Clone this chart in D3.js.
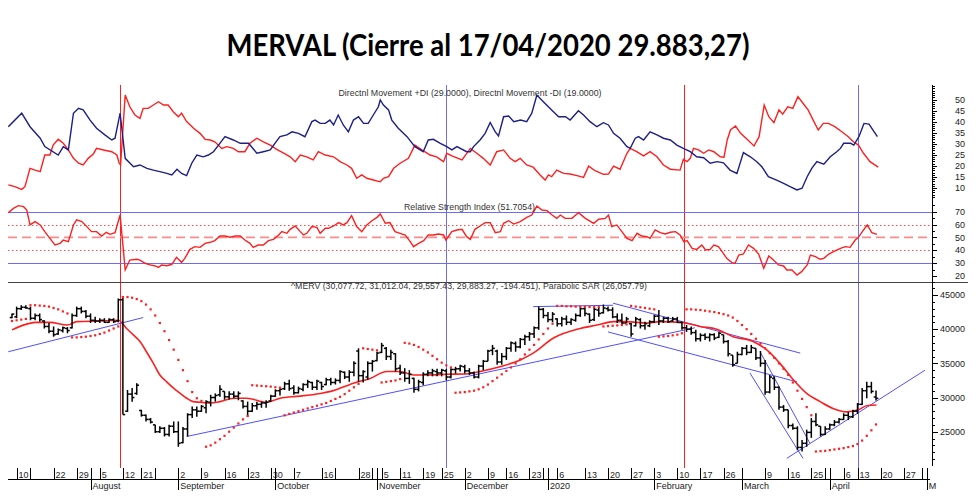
<!DOCTYPE html>
<html>
<head>
<meta charset="utf-8">
<script src="https://cdn.jsdelivr.net/npm/d3@7"></script>
<style>
  body { margin: 0; background: #fff; }
  svg { display: block; }
  text { font-family: "Liberation Sans", Arial, sans-serif; }
</style>
</head>
<body>
<script>
// ---- data ----
var title = "MERVAL (Cierre al 17/04/2020 29.883,27)";

// OHLC per trading day, index 0 = first bar (5 Jul 2019), 187 = 17 Apr 2020. Values in thousands of points.
var priceOpen = [41.7,41.8,43.0,43.2,43.0,41.6,42.0,41.2,40.4,39.7, 39.3,39.8,40.1,40.2,42.0,43.0,42.6,41.9,41.3,41.2,
  41.3,41.0,41.4,41.2,44.3,28.0,30.5,30.6,28.1,27.4, 26.8,26.0,25.0,25.5,24.6,25.8,25.0,23.4,25.4,27.5,
  28.2,28.0,28.5,29.3,30.0,30.4,30.9,30.1,30.5,30.2, 29.5,28.7,28.0,28.8,29.0,29.2,29.5,30.2,31.0,31.3,
  32.0,31.4,30.7,31.2,31.9,32.2,31.5,32.2,31.9,32.6, 32.2,32.5,33.7,33.0,33.7,36.8,33.2,33.0,35.0,35.4,
  36.6,37.2,36.0,36.4,34.3,33.6,32.8,32.8,31.2,32.2, 33.4,33.6,33.8,33.6,33.9,33.0,34.1,34.2,34.5,33.9,
  33.6,33.0,34.6,35.3,36.9,36.8,35.2,36.0,37.2,37.9, 37.4,38.5,38.9,39.3,40.2,42.9,42.0,41.4,41.5,40.8,
  41.5,41.0,41.3,42.0,43.0,42.2,41.4,42.8,42.4,43.0, 42.8,41.8,41.3,40.9,40.8,40.5,41.4,40.5,40.5,41.1,
  41.9,41.2,41.6,41.2,41.5,41.0,40.2,40.0,39.5,38.6, 39.1,38.8,39.2,38.8,39.2,38.2,36.2,35.0,36.3,37.2,
  36.6,37.2,35.8,35.0,30.8,32.8,31.5,28.6,28.2,25.9, 25.5,22.7,23.3,24.9,26.5,25.8,24.6,25.4,26.0,26.4,
  26.8,27.4,27.2,28.0,29.0,31.0,31.6,30.08];
var priceHigh = [42.3,43.3,43.5,43.5,43.3,42.3,42.3,41.3,40.9,40.4, 40.1,40.4,40.3,42.3,43.3,43.3,42.8,42.3,41.8,41.6,
  41.6,41.6,41.6,44.5,44.7,31.1,31.4,32.1,28.2,27.5, 27.0,26.0,25.8,25.7,26.0,26.5,26.5,25.7,27.7,28.7,
  28.7,28.9,29.6,30.4,30.6,31.8,30.9,30.9,30.9,30.9, 29.6,29.4,29.2,29.4,29.4,29.6,30.4,31.2,31.4,32.3,
  32.6,31.8,31.6,32.1,32.6,32.3,32.6,32.3,32.9,32.9, 32.8,34.0,33.8,34.0,35.3,37.2,34.0,35.3,35.5,36.7,
  38.0,37.4,37.0,36.5,34.8,34.3,34.0,32.9,32.6,33.7, 34.0,34.2,34.2,34.2,34.2,34.3,34.5,34.8,34.8,34.3,
  33.8,34.8,35.5,37.0,37.7,37.0,36.5,37.4,38.2,38.2, 38.7,39.2,39.6,40.4,43.3,43.1,42.5,42.5,41.6,41.8,
  42.0,41.6,42.3,43.2,43.2,42.3,43.1,43.2,43.6,43.3, 43.2,42.3,42.3,41.8,40.9,41.8,41.6,41.1,41.3,42.1,
  42.8,41.8,41.8,41.8,41.8,41.1,40.6,40.4,39.9,39.4, 39.4,39.4,39.4,39.6,39.2,38.4,36.2,36.7,37.4,37.7,
  37.7,37.2,36.8,35.5,33.3,33.1,31.6,28.9,28.2,26.2, 25.8,23.8,25.3,27.0,27.7,25.8,25.8,26.2,26.7,27.0,
  27.7,27.9,28.2,29.2,31.4,32.3,32.3,31.01];
var priceLow = [41.6,41.6,42.8,43.0,41.3,41.3,41.1,40.1,39.4,38.9, 39.2,39.5,39.4,40.1,41.8,42.3,41.6,40.9,40.9,40.9,
  40.9,40.9,40.9,41.0,27.5,27.9,29.4,30.4,27.2,26.5, 26.2,24.8,24.8,24.3,24.3,24.8,22.8,23.3,24.3,27.0,
  27.2,27.9,27.7,28.7,29.4,30.1,29.7,29.7,29.9,29.6, 28.4,27.2,27.9,28.2,28.5,28.5,29.4,30.1,30.3,31.1,
  31.0,30.4,30.6,30.9,31.4,31.1,31.1,31.1,31.8,31.8, 31.9,32.1,32.7,32.3,33.1,32.3,32.2,32.6,33.8,35.3,
  36.5,35.5,35.5,33.8,33.3,32.3,32.0,30.7,30.9,31.8, 33.1,33.1,33.1,33.1,32.5,32.8,33.5,33.8,33.5,33.3,
  32.8,32.8,34.0,35.3,36.2,34.8,34.8,35.5,36.7,36.7, 37.2,37.7,38.3,38.7,39.9,41.6,41.0,41.0,40.4,40.4,
  40.6,40.6,41.1,41.8,41.9,40.9,41.2,41.8,42.3,42.6, 41.6,40.9,40.8,40.9,38.9,40.4,40.1,39.9,40.3,40.9,
  40.6,40.9,40.9,41.1,40.9,39.9,39.6,39.2,38.2,38.2, 38.4,38.2,38.4,38.7,37.9,36.0,34.5,35.0,36.2,36.2,
  36.5,35.5,34.5,30.4,30.6,31.1,28.2,27.9,25.5,25.3, 22.3,22.1,22.8,24.1,25.8,24.3,24.5,25.3,25.8,26.2,
  26.7,26.7,27.0,27.6,28.9,29.9,30.6,29.56];
var priceClose = [42.2,43.0,43.2,43.1,41.6,42.0,41.4,40.4,39.7,39.2, 39.9,40.2,39.8,42.0,43.0,42.6,41.9,41.3,41.2,41.3,
  41.0,41.4,41.1,44.3,27.5,30.5,30.0,31.8,27.4,26.8, 26.4,25.0,25.5,24.6,25.8,25.0,23.3,25.4,27.5,28.2,
  28.0,28.7,29.4,30.0,30.3,31.2,30.1,30.5,30.2,30.6, 28.7,28.0,28.8,29.0,29.2,29.3,30.2,31.0,31.2,32.0,
  31.3,30.7,31.3,31.9,32.3,31.5,32.4,31.6,32.6,32.2, 32.5,33.8,33.0,33.7,35.0,33.2,33.8,35.0,35.3,36.5,
  37.6,36.0,36.6,34.2,33.6,32.8,33.4,31.2,32.3,33.4, 33.6,33.9,33.6,34.0,33.0,34.1,34.2,34.6,33.9,33.6,
  33.0,34.6,35.3,36.8,37.2,35.2,36.0,37.2,38.0,37.4, 38.5,38.9,39.3,40.2,42.9,42.0,41.4,42.2,40.8,41.5,
  41.0,41.4,42.0,43.0,42.3,41.3,42.9,42.3,43.1,42.8, 41.8,41.3,40.9,41.5,39.3,41.5,40.5,40.8,41.1,41.9,
  41.2,41.6,41.1,41.5,41.0,40.2,40.0,39.5,38.6,39.1, 38.8,39.2,38.7,39.4,38.2,36.4,34.8,36.3,37.2,36.6,
  37.3,35.8,35.0,30.8,33.0,31.5,28.6,28.2,25.9,25.5, 22.7,23.3,24.9,26.5,26.0,24.6,25.4,26.0,26.4,26.8,
  27.4,27.2,28.0,29.0,31.0,31.6,30.9,29.88];

// Parabolic SAR, one dot per bar (thousands)
var sarValues = [41.2,41.3,41.4,41.5,43.5,43.5,43.45,43.4,43.3,43.1, 42.9,42.6,42.3,38.8,38.8,38.85,38.9,39.0,39.1,39.3,
  39.5,39.8,40.1,40.4,44.7,44.7,44.6,44.4,44.1,43.6, 42.9,42.0,40.9,39.7,38.4,37.0,35.5,34.0,32.4,30.8,
  29.9,29.5,22.8,23.0,23.4,23.9,24.4,25.0,25.6,26.2, 26.8,27.3,31.8,31.75,31.7,31.65,31.6,31.5,31.45,27.4,
  27.6,27.8,28.0,28.2,28.4,28.6,28.8,29.0,29.2,29.5, 29.8,30.1,30.5,31.0,31.5,32.0,37.2,37.1,37.0,36.9,
  32.2,32.3,32.4,32.5,32.7,38.0,37.9,37.7,37.4,37.0, 36.6,36.1,35.6,35.1,34.7,34.4,30.7,30.75,30.8,30.9,
  31.0,31.2,31.5,31.9,32.4,32.9,33.4,33.9,34.4,35.0, 35.6,36.3,37.0,37.7,38.5,39.3,40.1,40.8,43.4,43.4,
  43.35,43.35,43.3,43.3,43.3,43.25,43.25,43.25,40.4,40.45, 40.5,40.55,40.6,40.7,43.4,43.3,43.2,43.1,43.0,42.9,
  38.9,38.95,39.0,39.1,39.2,39.4,42.9,42.9,42.85,42.8, 42.7,42.6,42.5,42.35,42.2,42.0,41.7,41.2,40.6,40.0,
  39.3,38.6,37.9,37.2,36.5,35.8,35.0,34.2,33.3,32.2, 31.0,29.8,28.6,27.4,22.1,22.15,22.2,22.3,22.4,22.5,
  22.6,22.75,22.9,23.2,23.7,24.4,25.2,26.06];

// moving average traced as [bar index, value in thousands]
var movingAvg = [[0,39.9],[3,40.7],[5,41.0],[8.2,41.0],[12,40.6],[14,41.1],[19,41.2],[23,41.3],[24.8,40.1],[26.2,39.2],
  [27.7,38.2],[29.1,36.7],[30.6,35.0],[32,33.3],[33.5,32.3],[34.9,31.4],[36.4,30.6],[37.8,29.9],[39.2,29.4],[40.7,29.3],
  [42.9,29.2],[45,29.4],[48,29.9],[50.8,29.9],[55.1,29.3],[58,29.9],[62.3,30.2],[66.7,30.6],[69,30.9],[73.9,32.1],
  [77.5,32.8],[81.1,33.8],[84,33.8],[86.9,33.3],[89.8,33.3],[94.1,33.4],[98.4,33.45],[101.3,33.8],[105.6,34.5],[110,35.5],
  [112.8,36.5],[117.2,38.7],[123,40.1],[126.6,40.6],[130.2,41.1],[133,41.1],[137.4,40.9],[140.2,41.1],[145.3,40.95],[148.9,40.4],
  [152.5,40.0],[156.1,38.9],[160.4,38.2],[163.3,37.0],[166.2,35.0],[169.1,32.6],[172,30.6],[174.9,29.4],[177.7,28.4],[180.6,27.9],
  [183.2,28.2],[185,28.8],[187.1,28.9]];

// trend lines drawn on the price panel: [[index, value], [index, value]]
var trendLines = [
  [[-0.8,36.7],[28.4,41.7]],
  [[37.8,24.3],[147.8,40.2]],
  [[112.8,43.3],[130.1,43.5]],
  [[130.1,43.8],[170.6,36.5]],
  [[129,39.6],[169.9,32.3]],
  [[159.7,33.6],[171.2,21.1]],
  [[161.9,36.7],[172.7,23.3]],
  [[167.7,21.1],[197.6,34.0]]
];

// Directional movement, traced as [bar index, value]
var plusDI = [[-0.8,37.7],[2.1,43.8],[3.9,37.7],[6.1,32.5],[7.1,28.7],[10,24.9],[11.1,28.7],[12.2,27.2],[13.3,43.8],[14.4,46.0],
  [15.4,45.3],[16.9,40.7],[18.3,37.0],[20.1,34.0],[21.6,31.7],[22.3,32.5],[23.4,43.8],[24.5,23.4],[26.3,19.6],[27.7,20.4],
  [29.2,18.9],[30.6,18.1],[32,17.4],[33.5,16.6],[34.6,15.9],[35.7,18.5],[36.7,16.6],[37.8,15.6],[38.9,21.2],[40,24.9],
  [41.4,24.1],[42.5,24.9],[43.6,26.4],[44.7,29.4],[46.1,33.2],[47.9,31.7],[49.4,30.2],[51.2,30.2],[53,25.7],[54.4,26.4],
  [55.9,27.2],[56.9,30.2],[58,33.2],[59.5,34.0],[60.6,35.4],[62,34.7],[63.4,33.2],[64.9,40.0],[65.6,40.7],[66.7,39.2],
  [67.8,39.2],[68.8,40.7],[69.6,38.5],[70.6,43.0],[71.7,38.5],[72.8,35.4],[73.9,40.7],[75,42.2],[76.1,39.2],[77.1,39.2],
  [78.2,43.0],[79.3,46.7],[79.7,49.8],[80.4,47.5],[81.5,45.3],[82.2,40.7],[83.6,37.0],[85.5,33.2],[87.2,28.7],[89,26.4],
  [90.1,31.7],[91.2,32.0],[92.7,30.2],[94.1,28.7],[95.2,27.2],[96.3,28.7],[98.4,26.4],[99.2,26.4],[99.9,28.7],[101.3,31.7],
  [102.4,34.7],[103.5,39.6],[104.6,35.4],[105.3,33.5],[106.4,42.2],[107.5,42.5],[108.6,40.0],[110.1,40.7],[111.4,40.0],[112.5,43.8],
  [113.6,52.0],[115,49.0],[116.8,45.3],[118.3,42.2],[119.8,42.2],[120.8,40.7],[122.6,44.9],[123.7,43.0],[125.1,40.0],[126.6,37.7],
  [128,39.5],[129.1,38.5],[130.2,34.7],[131.6,32.5],[133.1,28.7],[133.8,27.9],[134.9,32.5],[135.6,33.2],[136.7,31.7],[138.1,35.4],
  [139.6,34.0],[141,32.5],[142.5,31.7],[143.9,29.4],[145.3,27.9],[146.8,26.4],[148.2,24.1],[149.7,23.7],[151.1,21.2],[152.6,21.9],
  [154,21.4],[155.4,18.1],[156.9,16.6],[158.3,26.0],[159.8,24.1],[161.2,21.9],[162.3,19.6],[163.7,15.1],[165.5,13.6],[167,12.1],
  [168.4,10.6],[169.9,9.1],[171,9.9],[172.1,15.1],[173.1,18.9],[174.2,21.9],[175.7,20.8],[177.1,24.1],[178.5,26.4],[179.3,27.9],
  [180,30.2],[181.5,30.2],[182.2,29.4],[183.3,33.2],[184.4,39.2],[185.5,38.9],[186.6,35.4],[187.3,33.2]];
var minusDI = [[-0.8,11.4],[0.6,10.6],[2.1,9.4],[2.8,10.6],[3.9,18.9],[5,18.1],[6.1,17.4],[7.1,24.9],[8.2,24.9],[8.9,29.4],
  [10,32.0],[11.1,30.2],[12.2,27.2],[13.3,23.4],[14.4,21.2],[15.4,20.4],[16.5,23.4],[17.6,25.4],[18.3,27.9],[19.8,27.2],
  [21.6,26.4],[22.7,24.9],[23.2,21.2],[23.5,20.4],[24.5,52.0],[25.5,46.7],[26.6,43.0],[27.7,41.5],[28.4,46.0],[29.5,46.0],
  [30.6,47.5],[31.7,49.0],[32.8,47.5],[33.8,47.5],[34.9,44.5],[36,42.2],[36.7,43.8],[37.8,40.0],[39.3,37.0],[40.7,34.7],
  [41.8,32.0],[42.9,31.7],[43.9,30.9],[45.4,27.9],[46.5,28.7],[47.9,27.9],[49,26.4],[50.4,26.4],[51.5,30.2],[53,32.5],
  [54.4,30.9],[55.9,29.4],[57.3,27.5],[59.1,25.4],[60.2,24.1],[61.3,21.9],[62.4,24.9],[63.8,24.1],[65.2,22.7],[66.3,26.4],
  [67.8,24.9],[69.6,24.1],[71,21.9],[72.5,20.4],[73.5,18.9],[74.6,14.4],[75.7,15.9],[76.8,14.4],[78.2,13.6],[79.7,12.8],
  [80.4,14.4],[81.5,15.1],[82.6,18.9],[84,21.2],[85.8,23.4],[87.2,29.4],[88.7,27.2],[90.5,24.9],[91.9,24.1],[93.4,21.9],
  [94.1,25.7],[95.2,24.5],[97.4,22.7],[99.2,27.9],[100.6,25.7],[102,23.4],[103.5,20.4],[104.9,26.4],[106.4,27.2],[107.8,23.4],
  [108.9,21.9],[110,23.4],[111.4,20.4],[112.8,19.4],[114.3,15.9],[115.4,13.6],[116.1,15.9],[116.8,15.1],[117.9,18.1],[119.4,16.6],
  [120.8,16.3],[122.3,15.6],[123.7,14.8],[124.8,19.9],[126.2,17.8],[128,16.2],[129.1,16.3],[130.2,19.9],[131.6,18.5],[133.1,25.7],
  [133.8,27.9],[135.2,26.4],[136.7,24.5],[138.1,26.4],[139.6,24.1],[141,20.4],[142.5,18.5],[144.6,18.1],[145.3,23.0],[146.1,21.9],
  [146.8,23.4],[147.5,27.9],[148.6,27.2],[149.7,25.7],[150.8,27.2],[151.9,26.4],[153.3,24.1],[154.1,23.9],[154.8,31.7],[155.5,36.2],
  [156.6,38.0],[157.7,34.7],[159.1,32.0],[160.6,29.0],[161.7,33.2],[162.8,47.5],[163.8,42.2],[164.9,39.5],[166,45.3],[166.8,43.4],
  [167.9,46.7],[169,46.0],[170.1,51.3],[171.2,48.3],[172.3,45.3],[173.4,40.7],[174.5,36.2],[175.6,39.2],[176.7,39.2],[178.1,37.7],
  [179.6,35.4],[181,33.2],[182.1,30.9],[183.2,29.4],[184.3,25.7],[185.7,21.9],[187.5,19.4]];

// RSI, traced as [bar index, value]
var rsiLine = [[-0.8,69.3],[0.3,72.6],[1.4,74.7],[2.5,73.9],[3.2,71.3],[3.9,59.7],[5,62.3],[6.1,59.7],[7.1,54.5],[8.2,49.3],
  [9.3,44.1],[10.4,45.4],[11.1,48.0],[12.2,46.7],[13.3,59.7],[14,63.6],[15.1,62.3],[16.2,58.4],[17.2,54.5],[18.3,54.5],
  [19.4,51.1],[20.4,54.0],[21.2,52.4],[22.3,53.7],[23.4,67.4],[24.5,24.7],[25.5,32.4],[27,33.0],[27.7,32.4],[28.8,29.9],
  [29.9,28.6],[31,27.8],[31.7,26.7],[32.4,28.6],[33.5,28.0],[34.6,29.1],[35.6,34.5],[36.7,30.6],[37.4,33.7],[38.5,40.7],
  [39.6,42.8],[40.7,42.3],[41.8,45.4],[42.9,46.2],[43.9,47.5],[45,51.1],[46.1,51.1],[47.2,50.1],[48.3,51.1],[49.4,51.1],
  [50.4,48.0],[51.5,45.4],[52.2,42.3],[53.3,44.1],[54.4,44.1],[55.5,47.5],[56.6,48.5],[57.7,51.9],[58.4,54.5],[59.5,53.2],
  [60.2,56.3],[61.3,58.9],[62.4,54.5],[63.1,51.9],[63.8,53.2],[64.9,58.4],[66,57.8],[66.7,53.2],[67.8,57.1],[68.5,57.1],
  [69.6,58.9],[70.7,61.5],[71.7,59.7],[72.5,61.5],[73.5,66.9],[74.6,58.4],[75.7,54.5],[76.8,59.7],[77.9,63.0],[79,65.6],
  [79.7,68.2],[80.8,61.0],[81.8,61.5],[82.9,54.5],[84,53.2],[85.1,51.9],[86.2,46.7],[86.9,42.8],[88,45.4],[89.1,47.5],
  [90.1,51.9],[91.2,51.9],[92.3,52.7],[93.4,51.9],[93.9,48.0],[95.2,54.5],[96.3,55.8],[97.4,56.3],[98.4,50.6],[99.2,48.5],
  [100.2,56.3],[101.3,58.9],[102.4,61.5],[103.5,61.5],[104.6,53.7],[105.7,54.5],[106.4,61.0],[107.5,63.0],[108.6,60.4],[110,62.3],
  [111.4,65.6],[112.5,67.4],[113.6,74.4],[114.7,71.3],[115.8,70.8],[116.9,67.4],[117.9,64.8],[118.7,67.4],[119.7,64.8],[121.2,64.8],
  [122.6,69.2],[124.1,64.8],[125.9,60.9],[127,64.1],[128.4,64.8],[129.1,67.4],[129.8,58.4],[130.9,59.7],[132,54.5],[133.1,49.3],
  [134.2,47.5],[135.3,53.2],[136.3,51.1],[137.4,50.6],[138.1,49.3],[139.2,55.8],[140.3,53.7],[141.4,52.7],[142.5,54.0],[143.6,54.5],
  [144.6,51.9],[145.4,46.7],[146.1,47.5],[147.2,41.5],[148.2,40.7],[149.3,44.1],[150.1,40.2],[151.1,40.7],[151.9,44.1],[152.9,42.8],
  [153.7,38.9],[154.7,33.7],[155.8,30.4],[156.5,29.9],[157.3,36.3],[158.3,37.1],[159.4,44.1],[160.5,41.5],[161.6,37.1],[162.7,26.0],
  [163.8,35.6],[164.8,32.4],[165.9,28.6],[167,27.8],[167.7,24.7],[168.8,24.7],[169.9,20.8],[170.9,23.4],[172.1,28.6],[172.8,36.3],
  [173.9,35.0],[174.9,33.0],[175.7,33.7],[176.8,37.1],[177.8,38.9],[179.3,41.5],[180.4,42.8],[181.4,42.3],[182.5,48.0],[183.2,50.1],
  [184.3,55.8],[185.1,59.7],[186.1,53.7],[187.2,52.4]];
var rsiBands = [70, 30];        // solid blue
var rsiDotted = [60, 40];       // red dotted
var rsiMid = [50];              // red dashed

// vertical marker lines (bar index)
var redMarkers = [23.4, 145.4];
var blueMarkers = [94, 183.1];

// x axis: [bar index, label]
var dayTicks = [[1,"10"],[4,""],[9,"22"],[14,"29"],[19,"5"],[24,"12"],[28,"21"],[31,""],[36,"2"],[41,"9"],[46,"16"],
  [51,"23"],[56,"30"],[61,"7"],[67,"16"],[70,""],[75,"28"],[78,""],[80,"5"],[84,"11"],[89,"19"],[93,"25"],[98,"2"],
  [103,"9"],[107,"16"],[112,"23"],[115,""],[118,"6"],[124,"13"],[129,"20"],[134,"27"],[139,"3"],[144,"10"],[149,"17"],
  [154,"26"],[163,"9"],[168,"16"],[173,"25"],[176,""],[180,"6"],[183,"13"],[188,"20"],[193,"27"],[197,""]];
var monthTicks = [[17,"August"],[36,"September"],[57,"October"],[79,"November"],[98,"December"],[116,"2020"],
  [139,"February"],[158,"March"],[177,"April"],[198,"M"]];

var dmiLabels = [10, 15, 20, 25, 30, 35, 40, 45, 50];
var rsiLabels = [20, 30, 40, 50, 60, 70];
var priceLabels = [25, 30, 35, 40, 45];   // thousands

var dmiLegend = "Directnl Movement +DI (29.0000), Directnl Movement -DI (19.0000)";
var rsiLegend = "Relative Strength Index (51.7054)";
var priceLegend = "^MERV (30,077.72, 31,012.04, 29,557.43, 29,883.27, -194.451), Parabolic SAR (26,057.79)";

// ---- layout ----
var W = 980, H = 504;
var plotL = 8, plotR = 932;
var dmiPanel = {top: 85, bottom: 200},
    rsiPanel = {top: 200, bottom: 282},
    pxPanel = {top: 282, bottom: 466};

var x = d3.scaleLinear().domain([0, 187]).range([12, 876]);
var yDmi = d3.scaleLinear().domain([10, 50]).range([188, 99.5]);
var yRsi = d3.scaleLinear().domain([20, 70]).range([276, 211.7]);
var yPx = d3.scaleLinear().domain([25, 45]).range([431.7, 295]);

// snap a coordinate to the pixel grid so 1px lines stay crisp
function crisp(v) { return Math.round(v) + 0.5; }

var RED = "#ff1f1f", NAVY = "#1c1f86", BLUE = "#4f4fff", VBLUE = "#6c6cff";

var svg = d3.select("body").append("svg").attr("width", W).attr("height", H);
svg.append("rect").attr("width", W).attr("height", H).attr("fill", "#fff");

var defs = svg.append("defs");
function clip(id, p) {
  defs.append("clipPath").attr("id", id).append("rect")
    .attr("x", plotL).attr("y", p.top).attr("width", plotR - plotL).attr("height", p.bottom - p.top);
}
clip("c-dmi", dmiPanel); clip("c-rsi", rsiPanel); clip("c-px", pxPanel);

// title
svg.append("text")
  .attr("x", 488).attr("y", 56).attr("text-anchor", "middle")
  .style("font-family", "Lato, 'Open Sans', sans-serif").style("font-weight", "bold").style("font-size", "30px")
  .attr("textLength", 523).attr("lengthAdjust", "spacingAndGlyphs")
  .attr("fill", "#000").text(title);

// vertical markers (behind everything)
var vm = svg.append("g");
vm.selectAll(".vr").data(redMarkers).enter().append("line")
  .attr("x1", d => crisp(x(d))).attr("x2", d => crisp(x(d))).attr("y1", dmiPanel.top).attr("y2", 468)
  .attr("stroke", RED).attr("stroke-width", 1);
vm.selectAll(".vb").data(blueMarkers).enter().append("line")
  .attr("x1", d => crisp(x(d))).attr("x2", d => crisp(x(d))).attr("y1", dmiPanel.top).attr("y2", 468)
  .attr("stroke", VBLUE).attr("stroke-width", 1);

// ---- DMI panel ----
var gDmi = svg.append("g").attr("clip-path", "url(#c-dmi)");
var dmiLine = d3.line().x(d => x(d[0])).y(d => yDmi(d[1]));
gDmi.append("path").attr("d", dmiLine(minusDI)).attr("fill", "none").attr("stroke", RED).attr("stroke-width", 1.4);
gDmi.append("path").attr("d", dmiLine(plusDI)).attr("fill", "none").attr("stroke", NAVY).attr("stroke-width", 1.4);
svg.append("text").attr("x", 470).attr("y", 96).attr("text-anchor", "middle")
  .attr("textLength", 263).attr("lengthAdjust", "spacingAndGlyphs")
  .style("font-size", "8.5px").attr("fill", "#333").text(dmiLegend);

// ---- RSI panel ----
var gRsi = svg.append("g").attr("clip-path", "url(#c-rsi)");
gRsi.selectAll(".band").data(rsiBands).enter().append("line")
  .attr("x1", plotL).attr("x2", plotR).attr("y1", d => crisp(yRsi(d))).attr("y2", d => crisp(yRsi(d)))
  .attr("stroke", "#6b6bff").attr("stroke-width", 1);
gRsi.selectAll(".dot").data(rsiDotted).enter().append("line")
  .attr("x1", plotL).attr("x2", plotR).attr("y1", d => crisp(yRsi(d))).attr("y2", d => crisp(yRsi(d)))
  .attr("stroke", "#ff4a4a").attr("stroke-width", 1.2).attr("stroke-dasharray", "1.5,2.5");
gRsi.selectAll(".mid").data(rsiMid).enter().append("line")
  .attr("x1", plotL).attr("x2", plotR).attr("y1", d => yRsi(d)).attr("y2", d => yRsi(d))
  .attr("stroke", "#ff8a8a").attr("stroke-width", 1.6).attr("stroke-dasharray", "9,5");
gRsi.append("path").attr("d", d3.line().x(d => x(d[0])).y(d => yRsi(d[1]))(rsiLine))
  .attr("fill", "none").attr("stroke", RED).attr("stroke-width", 1.4);
svg.append("text").attr("x", 469.5).attr("y", 210).attr("text-anchor", "middle")
  .attr("textLength", 131).attr("lengthAdjust", "spacingAndGlyphs")
  .style("font-size", "8.5px").attr("fill", "#333").text(rsiLegend);

// ---- price panel ----
var gPx = svg.append("g").attr("clip-path", "url(#c-px)");
gPx.selectAll(".trend").data(trendLines).enter().append("line")
  .attr("x1", d => x(d[0][0])).attr("y1", d => yPx(d[0][1]))
  .attr("x2", d => x(d[1][0])).attr("y2", d => yPx(d[1][1]))
  .attr("stroke", BLUE).attr("stroke-width", 1);

gPx.append("path")
  .attr("d", d3.line().curve(d3.curveMonotoneX).x(d => x(d[0])).y(d => yPx(d[1]))(movingAvg))
  .attr("fill", "none").attr("stroke", RED).attr("stroke-width", 1.6);

var bars = gPx.selectAll(".bar").data(priceClose.map((c, i) => i)).enter().append("g")
  .attr("stroke", "#000").attr("stroke-width", 1.5);
bars.append("line").attr("x1", i => x(i)).attr("x2", i => x(i))
  .attr("y1", i => yPx(priceHigh[i])).attr("y2", i => yPx(priceLow[i]));
bars.append("line").attr("x1", i => x(i) - 2.3).attr("x2", i => x(i))
  .attr("y1", i => yPx(priceOpen[i])).attr("y2", i => yPx(priceOpen[i]));
bars.append("line").attr("x1", i => x(i)).attr("x2", i => x(i) + 2.3)
  .attr("y1", i => yPx(priceClose[i])).attr("y2", i => yPx(priceClose[i]));

gPx.selectAll(".sar").data(sarValues).enter().append("rect")
  .attr("x", (d, i) => x(i) - 1.1).attr("y", d => yPx(d) - 1.1)
  .attr("width", 2.2).attr("height", 2.2).attr("fill", RED);

svg.append("text").attr("x", 469).attr("y", 289).attr("text-anchor", "middle")
  .attr("textLength", 356).attr("lengthAdjust", "spacingAndGlyphs")
  .style("font-size", "8.5px").attr("fill", "#333").text(priceLegend);

// panel separator above price panel
svg.append("line").attr("x1", plotL).attr("x2", 968).attr("y1", crisp(pxPanel.top)).attr("y2", crisp(pxPanel.top))
  .attr("stroke", "#444").attr("stroke-width", 1);

// ---- right axis ----
var axisG = svg.append("g").attr("font-size", "9px");
axisG.append("line").attr("x1", crisp(plotR)).attr("x2", crisp(plotR)).attr("y1", dmiPanel.top).attr("y2", pxPanel.bottom)
  .attr("stroke", "#000");

function ticks(scale, values, len) {
  axisG.append("g").selectAll("line").data(values).enter().append("line")
    .attr("x1", plotR).attr("x2", plotR + len)
    .attr("y1", d => crisp(scale(d))).attr("y2", d => crisp(scale(d)))
    .attr("stroke", "#000").attr("stroke-width", 1);
}
ticks(yDmi, d3.range(6, 57), 3);
ticks(yDmi, dmiLabels, 5);
ticks(yRsi, d3.range(15, 80, 5), 3);
ticks(yRsi, rsiLabels, 5);
ticks(yPx, d3.range(21, 47), 3);
ticks(yPx, priceLabels, 6);

function labels(scale, values, lx, fmt) {
  axisG.append("g").selectAll("text").data(values).enter().append("text")
    .attr("x", lx).attr("y", d => scale(d)).attr("dy", "0.35em")
    .style("font-size", "9px").attr("fill", "#222").text(fmt);
}
labels(yDmi, dmiLabels, 955, d => d);
labels(yRsi, rsiLabels, 955, d => d);
labels(yPx, priceLabels, 940, d => d * 1000);

// ---- x axis ----
var xa = svg.append("g");
xa.append("line").attr("x1", plotL).attr("x2", 930).attr("y1", 479.5).attr("y2", 479.5).attr("stroke", "#000");
xa.selectAll(".dt").data(dayTicks).enter().append("line")
  .attr("x1", d => crisp(x(d[0]))).attr("x2", d => crisp(x(d[0])))
  .attr("y1", 468).attr("y2", 479.5).attr("stroke", "#000");
xa.selectAll(".dl").data(dayTicks).enter().append("text")
  .attr("x", d => x(d[0]) + 2).attr("y", 477.5)
  .style("font-size", "9px").attr("fill", "#222").text(d => d[1]);
xa.selectAll(".mt").data(monthTicks).enter().append("line")
  .attr("x1", d => crisp(x(d[0]))).attr("x2", d => crisp(x(d[0])))
  .attr("y1", 468).attr("y2", 490).attr("stroke", "#000");
xa.selectAll(".ml").data(monthTicks).enter().append("text")
  .attr("x", d => x(d[0]) + 2).attr("y", 488.5)
  .style("font-size", "9px").attr("fill", "#222").text(d => d[1]);
</script>
</body>
</html>
